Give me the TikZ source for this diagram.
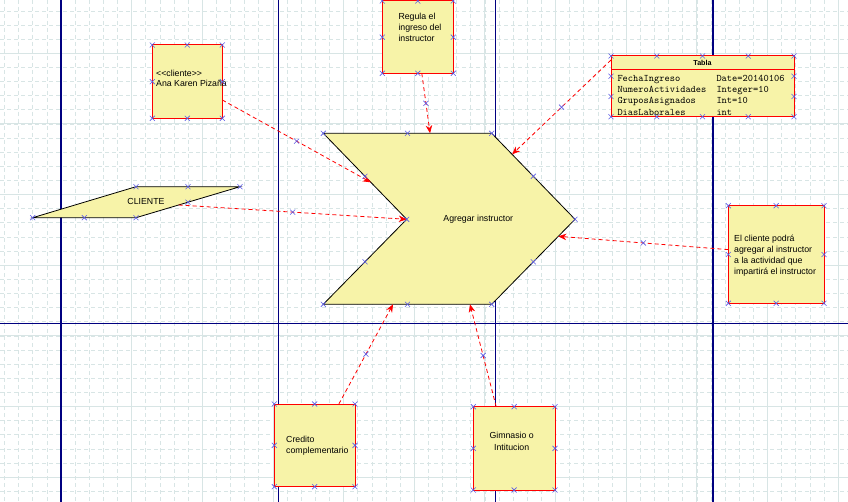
\documentclass[tikz,border=0pt]{standalone}
\usepackage{fontspec}
\setmainfont{Liberation Sans}
\usetikzlibrary{arrows.meta,calc}

\definecolor{gridc}{RGB}{216,229,229}
\definecolor{pageblue}{RGB}{0,0,128}
\definecolor{fillyel}{RGB}{247,243,168}
\definecolor{markc}{RGB}{90,90,230}

\tikzset{
  minorgrid/.style={draw=gridc, line width=0.7bp, dash pattern=on 4bp off 3bp},
  majorgrid/.style={draw=gridc, line width=0.9bp},
  pageline/.style={draw=pageblue, line width=1.2bp},
  notebox/.style={draw=red, line width=1bp, fill=fillyel, inner sep=0pt, outer sep=0pt},
  shapeline/.style={draw=black, line width=0.8bp, fill=fillyel},
  txt/.style={inner sep=0pt, font=\fontsize{8.8}{11.2}\selectfont, text=black},
  monotxt/.style={inner sep=0pt, anchor=base west, font=\ttfamily\fontsize{10}{11}\selectfont},
  conn/.style={draw=red, line width=0.8bp, dash pattern=on 4bp off 3bp,
    -{Stealth[length=8bp,width=6.5bp]}},
  mk/.pic={\draw[markc, line width=0.6bp] (-2.5,-2.5) -- (2.5,2.5) (-2.5,2.5) -- (2.5,-2.5);}
}

\begin{document}
\begin{tikzpicture}[x=1bp,y=-1bp]
\useasboundingbox (0,0) rectangle (848,502);
\fill[white] (0,0) rectangle (848,502);

% background grid
\foreach \i in {0,...,59} {
  \pgfmathsetmacro\gx{4.5+14.13*\i}
  \draw[minorgrid] (\gx,0) -- (\gx,502);
}
\foreach \i in {0,...,34} {
  \pgfmathsetmacro\gy{10.9+14.13*\i}
  \draw[minorgrid] (0,\gy) -- (848,\gy);
}
\foreach \i in {0,...,11} {
  \pgfmathsetmacro\gx{61+70.65*\i}
  \draw[majorgrid] (\gx,0) -- (\gx,502);
}
\foreach \i in {0,...,6} {
  \pgfmathsetmacro\gy{53.3+70.65*\i}
  \draw[majorgrid] (0,\gy) -- (848,\gy);
}

% page boundaries
\foreach \gx in {61,278.3,495.6,712.9} {
  \draw[pageline] (\gx,0) -- (\gx,502);
}
\draw[pageline] (0,323.3) -- (848,323.3);

% notes
\node[notebox, minimum width=70bp, minimum height=73.3bp] (cli) at (187.3,81.65) {};
\node[txt, anchor=west, align=left, font=\fontsize{8.8}{10}\selectfont] (clitxt) at (156,78.3) {<{}<cliente>{}>\\Ana Karen Pizaña};

\node[notebox, minimum width=71bp, minimum height=72.3bp] (reg) at (417.8,37.15) {};
\node[txt, anchor=west, align=left] (regtxt) at (398.3,27.4) {Regula el\\ingreso del\\instructor};

\node[notebox, minimum width=95.7bp, minimum height=97.6bp] (ecl) at (776.15,254.5) {};
\node[txt, anchor=west, align=left] (ecltxt) at (734,255.8) {El cliente podrá\\agregar al instructor\\a la actividad que\\impartirá el instructor};

\node[notebox, minimum width=80.7bp, minimum height=82.7bp] (cre) at (314.65,445.35) {};
\node[txt, anchor=west, align=left] (cretxt) at (286,445.9) {Credito\\complementario};

\node[notebox, minimum width=81.7bp, minimum height=83.3bp] (gim) at (514.15,448.35) {};
\node[txt, align=center] (gimtxt) at (511.7,441.4) {Gimnasio o\\Intitucion};

% table
\node[notebox, minimum width=183bp, minimum height=60.7bp] (tab) at (702.5,86.35) {};
\draw[red, line width=1bp] ($(tab.north west)+(0,13.3)$) coordinate (hl) -- ($(tab.north east)+(0,13.3)$) coordinate (hr);
\node[inner sep=0pt, font=\bfseries\fontsize{7.2}{8}\selectfont] (tabhead) at (702.5,63) {Tabla};
\node[monotxt] (r1a) at (617.3,82) {FechaIngreso};
\node[monotxt] (r1b) at (716.3,82) {Date=20140106};
\node[monotxt] (r2a) at (617.3,93) {NumeroActividades};
\node[monotxt] (r2b) at (716.3,93) {Integer=10};
\node[monotxt] (r3a) at (617.3,104) {GruposAsignados};
\node[monotxt] (r3b) at (716.3,104) {Int=10};
\node[monotxt] (r4a) at (617.3,115.5) {DiasLaborales};
\node[monotxt] (r4b) at (716.3,115.5) {int};

% actor parallelogram
\coordinate (P1) at (32.7,217.7);
\coordinate (P2) at (136,186.7);
\coordinate (P3) at (240,186.7);
\coordinate (P4) at (136,217.7);
\draw[shapeline] (P1) -- (P2) -- (P3) -- (P4) -- cycle;
\node[txt] (actor) at (146,201.5) {CLIENTE};

% process chevron
\coordinate (A) at (323.3,133.3);
\coordinate (B) at (491.7,133.3);
\coordinate (C) at (575,219.3);
\coordinate (D) at (491.7,304.3);
\coordinate (E) at (323.3,304.3);
\coordinate (F) at (406.7,219.3);
\draw[shapeline] (A) -- (B) -- (C) -- (D) -- (E) -- (F) -- cycle;
\node[txt] (proc) at (478.3,219.3) {Agregar instructor};

% connectors
\coordinate (s1) at ($(cli.north east)!0.75!(cli.south east)$);
\coordinate (e1) at ($(A)!0.57!(F)$);
\coordinate (s2) at ($(P4)!0.41!(P3)$);
\coordinate (e2) at (F);
\coordinate (s3) at ($(reg.south)+(4,0)$);
\coordinate (e3) at ($(A)!0.634!(B)$);
\coordinate (s4) at ($(tab.north west)!0.066!(tab.south west)$);
\coordinate (e4) at ($(B)!0.245!(C)$);
\coordinate (s5) at ($(ecl.north west)!0.45!(ecl.south west)$);
\coordinate (e5) at ($(C)!0.2!(D)$);
\coordinate (s6) at ($(cre.north west)!0.8!(cre.north east)$);
\coordinate (e6) at ($(E)!0.414!(D)$);
\coordinate (s7) at ($(gim.north west)!0.28!(gim.north east)$);
\coordinate (e7) at ($(E)!0.871!(D)$);
\foreach \k in {1,...,7} {
  \draw[conn] (s\k) -- (e\k);
}

% connection point markers
\foreach \n in {cli,reg,ecl,cre,gim} {
  \foreach \a in {north west,north,north east,east,south east,south,south west,west} {
    \pic at (\n.\a) {mk};
  }
}
\foreach \f in {0,0.25,0.5,0.75,1} {
  \pic at ($(tab.north west)!\f!(tab.north east)$) {mk};
  \pic at ($(tab.south west)!\f!(tab.south east)$) {mk};
}
\foreach \f in {0.333,0.667} {
  \pic at ($(tab.north west)!\f!(tab.south west)$) {mk};
  \pic at ($(tab.north east)!\f!(tab.south east)$) {mk};
}
\foreach \p in {P1,P2,P3,P4} { \pic at (\p) {mk}; }
\pic at ($(P2)!0.5!(P3)$) {mk};
\pic at ($(P1)!0.5!(P4)$) {mk};
\pic at ($(P4)!0.5!(P3)$) {mk};
\foreach \p in {A,B,C,D,E,F} { \pic at (\p) {mk}; }
\pic at ($(A)!0.5!(B)$) {mk};
\pic at ($(E)!0.5!(D)$) {mk};
\pic at ($(B)!0.5!(C)$) {mk};
\pic at ($(C)!0.5!(D)$) {mk};
\pic at ($(F)!0.5!(E)$) {mk};
\pic at ($(A)!0.5!(F)$) {mk};
\foreach \k in {1,...,7} {
  \pic at ($(s\k)!0.5!(e\k)$) {mk};
}
\end{tikzpicture}
\end{document}
